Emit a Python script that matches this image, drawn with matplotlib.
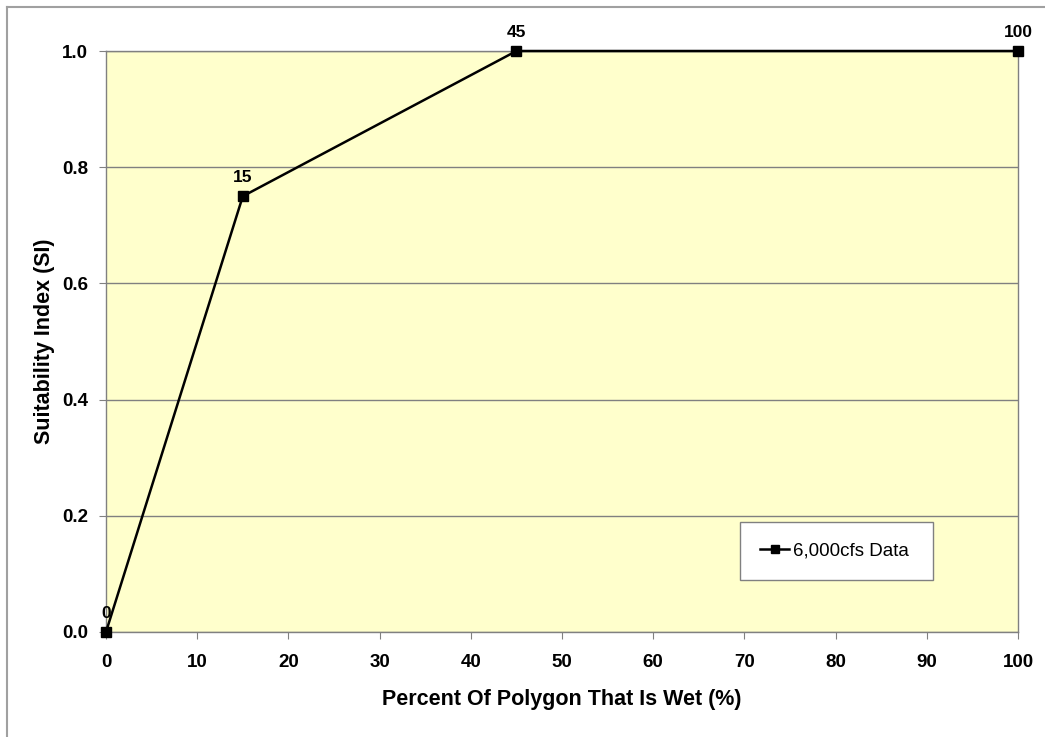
import matplotlib.pyplot as plt
from matplotlib.lines import Line2D

plt.rcParams['font.family'] = ['Liberation Sans', 'DejaVu Sans']

pct_wet = [0, 15, 45, 100]
suit_index = [0.0, 0.75, 1.0, 1.0]
point_labels = ['0', '15', '45', '100']
series_name = '6,000cfs Data'

fig = plt.figure(figsize=(10.45, 7.37), dpi=100)
ax = fig.add_axes([106 / 1045, 1 - 632 / 737, 912 / 1045, 581 / 737])
ax.set_facecolor('#ffffcc')

# outer chart border (left and top only visible)
fig.add_artist(Line2D([7 / 1045, 7 / 1045], [0, 1 - 7 / 737], transform=fig.transFigure,
                      color='#a0a0a0', lw=1.5))
fig.add_artist(Line2D([7 / 1045, 1], [1 - 7 / 737, 1 - 7 / 737], transform=fig.transFigure,
                      color='#a0a0a0', lw=1.5))

ax.plot(pct_wet, suit_index, color='black', lw=1.8, marker='s', ms=7,
        mfc='black', mec='black', label=series_name, clip_on=False, zorder=5)

for xv, yv, lab in zip(pct_wet, suit_index, point_labels):
    ax.annotate(lab, (xv, yv), xytext=(0, 8), textcoords='offset points',
                ha='center', va='bottom', fontsize=12.5, fontweight='bold')

ax.set_xlim(0, 100)
ax.set_ylim(0, 1.0)
ax.set_xticks(range(0, 101, 10))
ax.set_yticks([0.0, 0.2, 0.4, 0.6, 0.8, 1.0])
ax.set_yticklabels(['0.0', '0.2', '0.4', '0.6', '0.8', '1.0'])
ax.tick_params(direction='out', length=5, color='#808080', labelsize=13.5)
ax.tick_params(axis='x', pad=11)
ax.tick_params(axis='y', pad=8)
for lab in ax.get_xticklabels() + ax.get_yticklabels():
    lab.set_fontweight('bold')

ax.yaxis.grid(True, color='#808080', lw=1)
ax.set_axisbelow(True)
for s in ax.spines.values():
    s.set_color('#808080')
    s.set_linewidth(1)

ax.set_xlabel('Percent Of Polygon That Is Wet (%)', fontsize=15.5, fontweight='bold', labelpad=13)
ax.set_ylabel('Suitability Index (SI)', fontsize=15.5, fontweight='bold', labelpad=5)

leg = ax.legend(loc='lower left', bbox_to_anchor=(0.695, 0.0895, 0.2116, 0.108),
                mode='expand', borderaxespad=0, fontsize=13.5, fancybox=False,
                framealpha=1, edgecolor='#808080', handlelength=1.5,
                handletextpad=0.25, borderpad=1.1, markerscale=0.75)
leg.get_frame().set_linewidth(1)

fig.savefig('out.png', dpi=100)
